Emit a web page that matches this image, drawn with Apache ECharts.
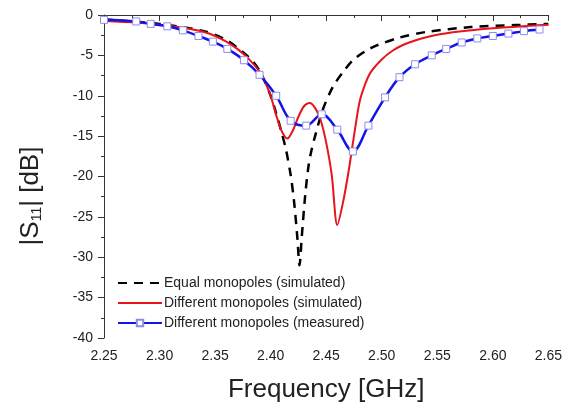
<!DOCTYPE html>
<html><head><meta charset="utf-8">
<script src="https://cdn.jsdelivr.net/npm/echarts@6/dist/echarts.min.js"></script>
<style>html,body{margin:0;padding:0;background:#fff}#c{width:565px;height:408px}</style>
</head><body><div id="c"></div>
<script>
var legendNames = ['Equal monopoles (simulated)', 'Different monopoles (simulated)', 'Different monopoles (measured)'];
var xTicks = ['2.25','2.30','2.35','2.40','2.45','2.50','2.55','2.60','2.65'];

var eqFreq = [2.25,2.30,2.34,2.36,2.38,2.39,2.40,2.405,2.41,2.414,2.418,2.421,2.424,2.426,2.428,2.431,2.434,2.437,2.44,2.447,2.456,2.465,2.474,2.485,2.495,2.516,2.54,2.58,2.62,2.65];
var eqVal  = [-0.55,-1.1,-2.0,-3.1,-5.2,-6.9,-10.0,-12.2,-14.6,-16.8,-19.8,-23.0,-27.5,-31.0,-27.5,-22.5,-18.8,-16.6,-15.0,-11.7,-8.9,-7.1,-5.6,-4.5,-3.8,-2.8,-2.1,-1.5,-1.25,-1.1];

var difFreq = [2.25,2.28,2.30,2.32,2.34,2.35,2.36,2.37,2.38,2.39,2.395,2.40,2.405,2.41,2.415,2.42,2.425,2.43,2.435,2.44,2.445,2.45,2.455,2.46,2.465,2.47,2.475,2.48,2.485,2.49,2.50,2.51,2.52,2.53,2.55,2.57,2.60,2.63,2.65];
var difVal  = [-0.75,-0.95,-1.2,-1.55,-2.1,-2.6,-3.3,-4.2,-5.4,-7.0,-8.3,-10.0,-12.4,-14.4,-15.3,-14.3,-12.6,-11.3,-10.9,-11.5,-13.0,-15.8,-19.8,-26.0,-23.3,-19.5,-15.0,-10.8,-8.6,-7.1,-5.5,-4.4,-3.65,-3.15,-2.45,-2.05,-1.65,-1.35,-1.2];

var measFreq = [2.25,2.279,2.292,2.307,2.321,2.335,2.348,2.361,2.376,2.390,2.405,2.418,2.432,2.446,2.460,2.474,2.488,2.503,2.516,2.530,2.545,2.558,2.572,2.586,2.600,2.614,2.628,2.642];
var measVal  = [-0.6,-0.8,-1.1,-1.4,-1.9,-2.6,-3.3,-4.2,-5.6,-7.4,-10.0,-13.1,-13.7,-12.3,-14.2,-16.9,-13.7,-10.2,-7.7,-6.1,-5.0,-4.2,-3.4,-2.9,-2.6,-2.3,-2.0,-1.8];

function pairs(xs, ys){ return xs.map(function(x,i){return [x, ys[i]];}); }

var font = 'Liberation Sans, Arial, sans-serif';
var chart = echarts.init(document.getElementById('c'));
chart.setOption({
  animation: false,
  backgroundColor: '#fff',
  grid: {left: 104, right: 16, top: 15, bottom: 67},
  legend: {
    orient: 'vertical', left: 112, top: 270, itemGap: 4, itemWidth: 44, itemHeight: 8,
    textStyle: {fontFamily: font, fontSize: 14, lineHeight: 16, color: '#222', padding: [0,0,0,-3]},
    data: [
      {name: legendNames[0], itemStyle: {opacity: 0}},
      {name: legendNames[1], itemStyle: {opacity: 0}},
      {name: legendNames[2]}
    ]
  },
  graphic: [{
    type: 'text', x: 30, y: 196, rotation: Math.PI / 2,
    style: {
      text: '{a||S}{sub|11}{a|| [dB]}', align: 'center', verticalAlign: 'middle',
      fontFamily: font, fontSize: 26, fill: '#222',
      rich: {
        a: {fontFamily: font, fontSize: 26, lineHeight: 28, fill: '#222', verticalAlign: 'bottom'},
        sub: {fontFamily: font, fontSize: 14, lineHeight: 4, fill: '#222', verticalAlign: 'bottom'}
      }
    }
  }],
  xAxis: {
    type: 'value', min: 2.25, max: 2.65, interval: 0.05,
    name: 'Frequency [GHz]', nameLocation: 'middle', nameGap: 39,
    nameTextStyle: {fontFamily: font, fontSize: 26, color: '#222'},
    axisLine: {lineStyle: {color: '#333', width: 1}},
    axisTick: {show: true, inside: false, length: 6, lineStyle: {color: '#333'}},
    minorTick: {show: true, splitNumber: 2, length: 3, lineStyle: {color: '#333'}},
    splitLine: {show: false},
    axisLabel: {fontFamily: font, fontSize: 14, color: '#222', margin: 11,
      formatter: function(v){ var s = v.toFixed(2); return xTicks.indexOf(s) >= 0 ? s : ''; }}
  },
  yAxis: {
    type: 'value', min: -40, max: 0, interval: 5,
    axisLine: {show: true, lineStyle: {color: '#333', width: 1}},
    axisTick: {show: true, inside: false, length: 6, lineStyle: {color: '#333'}},
    minorTick: {show: true, splitNumber: 2, length: 3, lineStyle: {color: '#333'}},
    splitLine: {show: false},
    axisLabel: {fontFamily: font, fontSize: 14, color: '#222', margin: 11}
  },
  series: [
    {name: legendNames[0], type: 'line', data: pairs(eqFreq, eqVal), smooth: 0.3,
      showSymbol: false, symbol: 'none', z: 2,
      lineStyle: {color: '#000', width: 2.5, type: [9, 7]}, itemStyle: {color: '#000'}},
    {name: legendNames[1], type: 'line', data: pairs(difFreq, difVal), smooth: 0.3,
      showSymbol: false, symbol: 'none', z: 3,
      lineStyle: {color: '#e8141c', width: 2}, itemStyle: {color: '#e8141c'}},
    {name: legendNames[2], type: 'line', data: pairs(measFreq, measVal), smooth: 0.35,
      symbol: 'rect', symbolSize: 7, showSymbol: true, z: 4,
      lineStyle: {color: '#1414e6', width: 2.5},
      itemStyle: {color: '#fff', borderColor: '#8c8cf0', borderWidth: 1}}
  ]
});
</script></body></html>
